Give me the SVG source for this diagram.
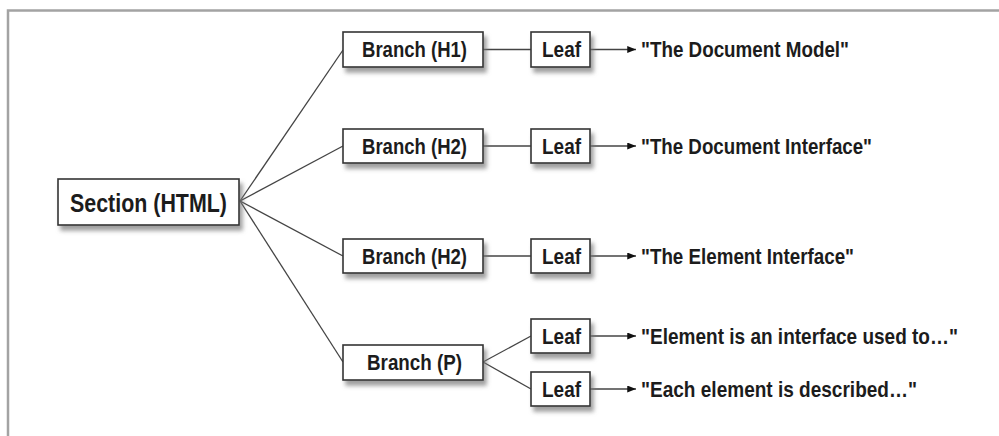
<svg xmlns="http://www.w3.org/2000/svg" width="999" height="436" viewBox="0 0 999 436">
<style>
.box{fill:#fff;stroke:#333;stroke-width:1.6;filter:url(#sh)}
.t{font-family:"Liberation Sans",Arial,sans-serif;font-weight:bold;fill:#1c1c1c;font-size:21.5px}
.big{font-size:26px}
.c{fill:none;stroke:#444;stroke-width:1.3}
</style>
<defs>
<filter id="sh" x="-20%" y="-30%" width="150%" height="180%">
<feDropShadow dx="3" dy="5" stdDeviation="2" flood-color="#777" flood-opacity="0.7"/>
</filter>
<marker id="ah" viewBox="0 0 10 8" refX="10" refY="4" markerWidth="10" markerHeight="7" markerUnits="userSpaceOnUse" orient="auto">
<path d="M0,0 L10,4 L0,8 Z" fill="#111"/>
</marker>
</defs>
<rect width="999" height="436" fill="#fff"/>
<path d="M8,436 V10.5 H999" fill="none" stroke="#a3a3a3" stroke-width="2.5"/>
<g id="connectors">
<line class="c" x1="240" y1="201" x2="343" y2="50"/>
<line class="c" x1="240" y1="201" x2="343" y2="146"/>
<line class="c" x1="240" y1="201" x2="343" y2="256"/>
<line class="c" x1="240" y1="201" x2="343" y2="362"/>
<line class="c" x1="483" y1="49.5" x2="531" y2="49.5"/>
<line class="c" x1="483" y1="146" x2="531" y2="146"/>
<line class="c" x1="483" y1="256" x2="531" y2="256"/>
<line class="c" x1="483" y1="362" x2="531" y2="336"/>
<line class="c" x1="483" y1="362" x2="531" y2="389"/>
<line class="c" x1="590" y1="49.5" x2="636" y2="49.5" marker-end="url(#ah)"/>
<line class="c" x1="590" y1="146" x2="636" y2="146" marker-end="url(#ah)"/>
<line class="c" x1="590" y1="256" x2="636" y2="256" marker-end="url(#ah)"/>
<line class="c" x1="590" y1="336" x2="636" y2="336" marker-end="url(#ah)"/>
<line class="c" x1="590" y1="389" x2="636" y2="389" marker-end="url(#ah)"/>
</g>
<g id="section">
<rect class="box" x="58" y="179" width="181" height="46"/>
<text class="t big" x="70" y="211.5" textLength="157" lengthAdjust="spacingAndGlyphs">Section (HTML)</text>
</g>
<g id="branch-h1">
<rect class="box" x="343" y="32" width="140" height="35"/>
<text class="t" x="362" y="57" textLength="105" lengthAdjust="spacingAndGlyphs">Branch (H1)</text>
</g>
<g id="branch-h2a">
<rect class="box" x="343" y="129" width="140" height="34"/>
<text class="t" x="362" y="153.5" textLength="105" lengthAdjust="spacingAndGlyphs">Branch (H2)</text>
</g>
<g id="branch-h2b">
<rect class="box" x="343" y="239" width="140" height="34"/>
<text class="t" x="362" y="263.5" textLength="105" lengthAdjust="spacingAndGlyphs">Branch (H2)</text>
</g>
<g id="branch-p">
<rect class="box" x="343" y="345" width="140" height="35"/>
<text class="t" x="367" y="370" textLength="95" lengthAdjust="spacingAndGlyphs">Branch (P)</text>
</g>
<g id="leaf1">
<rect class="box" x="531" y="32" width="59" height="35"/>
<text class="t" x="542" y="57" textLength="39" lengthAdjust="spacingAndGlyphs">Leaf</text>
</g>
<g id="leaf2">
<rect class="box" x="531" y="129" width="59" height="34"/>
<text class="t" x="542" y="153.5" textLength="39" lengthAdjust="spacingAndGlyphs">Leaf</text>
</g>
<g id="leaf3">
<rect class="box" x="531" y="239" width="59" height="34"/>
<text class="t" x="542" y="263.5" textLength="39" lengthAdjust="spacingAndGlyphs">Leaf</text>
</g>
<g id="leaf4">
<rect class="box" x="531" y="319" width="59" height="34"/>
<text class="t" x="542" y="343.5" textLength="39" lengthAdjust="spacingAndGlyphs">Leaf</text>
</g>
<g id="leaf5">
<rect class="box" x="531" y="372" width="59" height="34"/>
<text class="t" x="542" y="396.5" textLength="39" lengthAdjust="spacingAndGlyphs">Leaf</text>
</g>
<g id="labels">
<text class="t" x="641" y="56.5" textLength="208" lengthAdjust="spacingAndGlyphs">"The Document Model"</text>
<text class="t" x="641" y="153.5" textLength="231" lengthAdjust="spacingAndGlyphs">"The Document Interface"</text>
<text class="t" x="641" y="263.5" textLength="213" lengthAdjust="spacingAndGlyphs">"The Element Interface"</text>
<text class="t" x="641" y="343.5" textLength="317" lengthAdjust="spacingAndGlyphs">"Element is an interface used to…"</text>
<text class="t" x="641" y="396.5" textLength="276" lengthAdjust="spacingAndGlyphs">"Each element is described…"</text>
</g>
</svg>
